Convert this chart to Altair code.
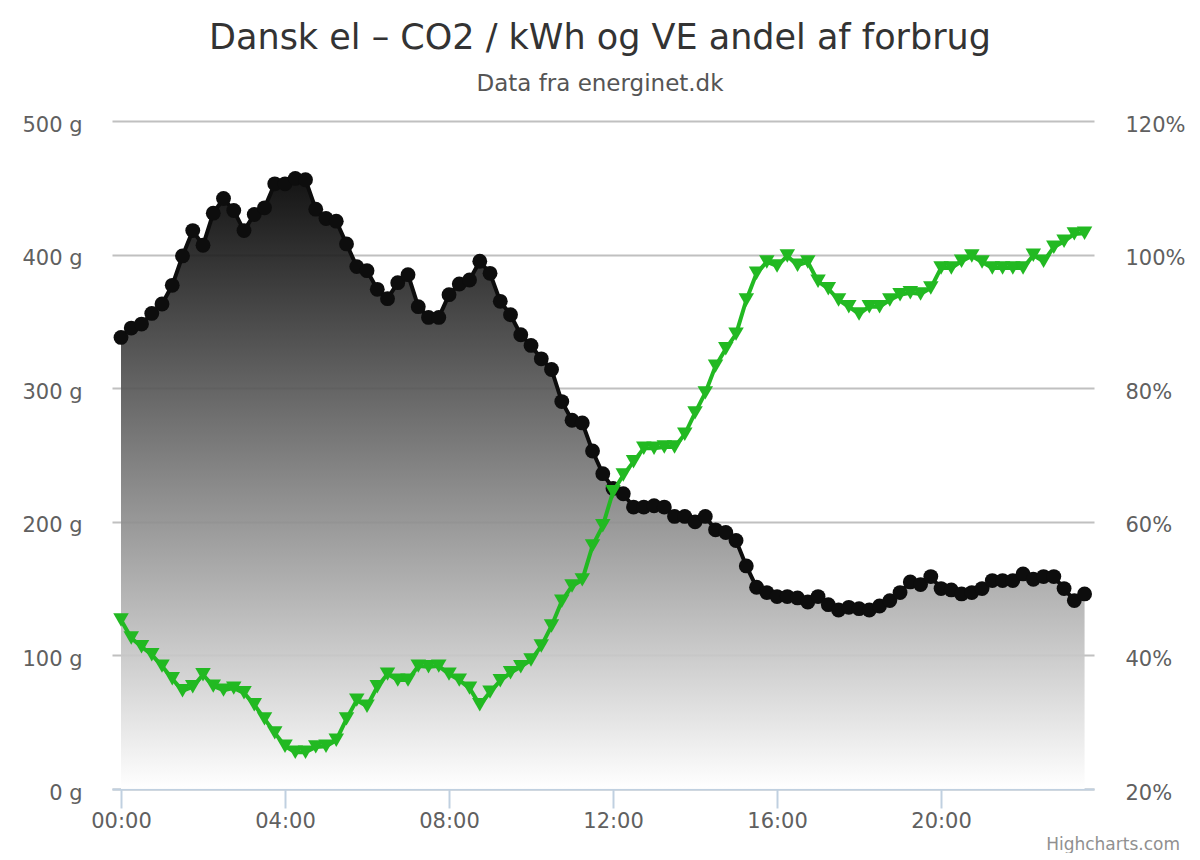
import altair as alt
import pandas as pd

# 15-minute steps from 00:00 to 23:30
times = [f"{h:02d}:{m:02d}" for h in range(24) for m in (0, 15, 30, 45)][:95]

co2 = [338, 345, 348, 356, 363, 377, 399, 418, 407, 431, 442, 433, 418, 430, 435, 453,
       453, 457, 456, 434, 427, 425, 408, 391, 388, 374, 367, 379, 385, 361, 353, 353,
       370, 378, 381, 395, 386, 365, 355, 340, 332, 322, 314, 290, 276, 274, 253, 236,
       225, 221, 211, 211, 212, 211, 204, 204, 200, 204, 194, 192, 186, 167, 151, 147,
       144, 144, 143, 140, 144, 138, 134, 136, 135, 134, 137, 141, 147, 155, 153, 159,
       150, 149, 146, 147, 150, 156, 156, 156, 161, 157, 159, 159, 150, 141, 146]

ve = [45.3, 42.6, 41.3, 40.1, 38.4, 36.5, 34.7, 35.3, 37.1, 35.4, 34.8, 35.1, 34.4, 32.6,
      30.5, 28.4, 26.4, 25.5, 25.5, 26.3, 26.4, 27.3, 30.5, 33.3, 32.4, 35.3, 37.2, 36.3,
      36.3, 38.4, 38.3, 38.4, 37.2, 36.3, 35.1, 32.6, 34.5, 36.2, 37.4, 38.3, 39.3, 41.4,
      44.4, 48.1, 50.4, 51.3, 56.4, 59.4, 64.5, 67.0, 69.0, 71.0, 71.0, 71.2, 71.2, 73.1,
      76.3, 79.3, 83.3, 85.9, 88.1, 93.2, 97.2, 98.9, 98.3, 99.8, 98.4, 98.9, 96.0, 94.9,
      93.2, 92.2, 91.1, 92.2, 92.2, 93.2, 94.0, 94.3, 94.1, 95.0, 98.0, 98.0, 99.0, 99.8,
      98.9, 98.0, 98.0, 98.0, 98.0, 99.9, 99.0, 101.1, 102.0, 103.1, 103.2]

x_ticks = [0, 4, 8, 12, 16, 20]
left_ticks = [0, 100, 200, 300, 400, 500]
right_ticks = [20, 40, 60, 80, 100, 120]

df = pd.DataFrame({
    "time": times,
    "hour": [int(t[:2]) + int(t[3:]) / 60 for t in times],
    "co2": co2,
    "ve": ve,
})

FONT = "DejaVu Sans"
LABEL = "#606060"

xscale = alt.Scale(domain=[-0.2195, 23.73], nice=False, zero=False)
xaxis = alt.Axis(values=x_ticks, grid=False, title=None,
                 labelExpr="(datum.value < 10 ? '0' : '') + datum.value + ':00'",
                 domainColor="#C0D0E0", domainWidth=2, tickColor="#C0D0E0",
                 tickWidth=2, tickSize=19, labelPadding=2, labelFontSize=21,
                 labelColor=LABEL, labelFont=FONT, labelFlush=False)
X = alt.X("hour:Q", scale=xscale, axis=xaxis)

lscale = alt.Scale(domain=[0, 500], nice=False)
laxis = alt.Axis(values=left_ticks, title=None, domain=False, ticks=False,
                 grid=True, gridColor="#C0C0C0", gridWidth=2, labelPadding=30,
                 labelFontSize=21, labelColor=LABEL, labelFont=FONT,
                 labelExpr="datum.value + ' g'", labelOffset=4, orient="left")
YL = alt.Y("co2:Q", scale=lscale, axis=laxis)

rscale = alt.Scale(domain=[20, 120], nice=False, zero=False)
raxis = alt.Axis(values=right_ticks, title=None, domain=False, ticks=False,
                 grid=False, orient="right", labelPadding=31,
                 labelFontSize=21, labelColor=LABEL, labelFont=FONT,
                 labelExpr="datum.value + '%'", labelOffset=4)
YR = alt.Y("ve:Q", scale=rscale, axis=raxis)

base = alt.Chart(df)

area = base.mark_area(
    color=alt.Gradient(gradient="linear",
                       stops=[alt.GradientStop(color="#000000", offset=0),
                              alt.GradientStop(color="#ffffff", offset=1)],
                       x1=1, x2=1, y1=0, y2=1),
    fillOpacity=0.92,
).encode(x=X, y=YL)

bline = base.mark_line(color="#0d0d0d", strokeWidth=4).encode(x=X, y=YL)
bpts = base.mark_point(shape="circle", filled=True, color="#0d0d0d", size=220,
                       opacity=1).encode(x=X, y=YL)

left = alt.layer(area, bline, bpts)

gline = base.mark_line(color="#22b922", strokeWidth=4).encode(x=X, y=YR)
gpts = base.mark_point(shape="triangle-down", filled=True, color="#22b922",
                       size=240, opacity=1).encode(x=X, y=YR)

right = alt.layer(gline, gpts)

credits = alt.Chart(pd.DataFrame({"t": ["Highcharts.com"]})).mark_text(
    align="right", baseline="middle", fontSize=17, font=FONT, color="#909090"
).encode(x=alt.value(1068), y=alt.value(724), text="t:N")

chart = alt.layer(left, right, credits).resolve_scale(y="independent").properties(
    width=982, height=668,
    autosize=alt.AutoSizeParams(type="none"),
    padding={"left": 104, "top": 113, "right": 98, "bottom": 64},
    title=alt.TitleParams(
        text="Dansk el – CO2 / kWh og VE andel af forbrug",
        subtitle="Data fra energinet.dk",
        font=FONT, fontSize=35, fontWeight="normal", color="#333333",
        subtitleFont=FONT, subtitleFontSize=23, subtitleColor="#555555",
        subtitlePadding=17, offset=18, anchor="middle", dx=-3,
    ),
).configure_view(stroke=None)

chart.save("out.html", embed_options={"renderer": "svg", "actions": False})
